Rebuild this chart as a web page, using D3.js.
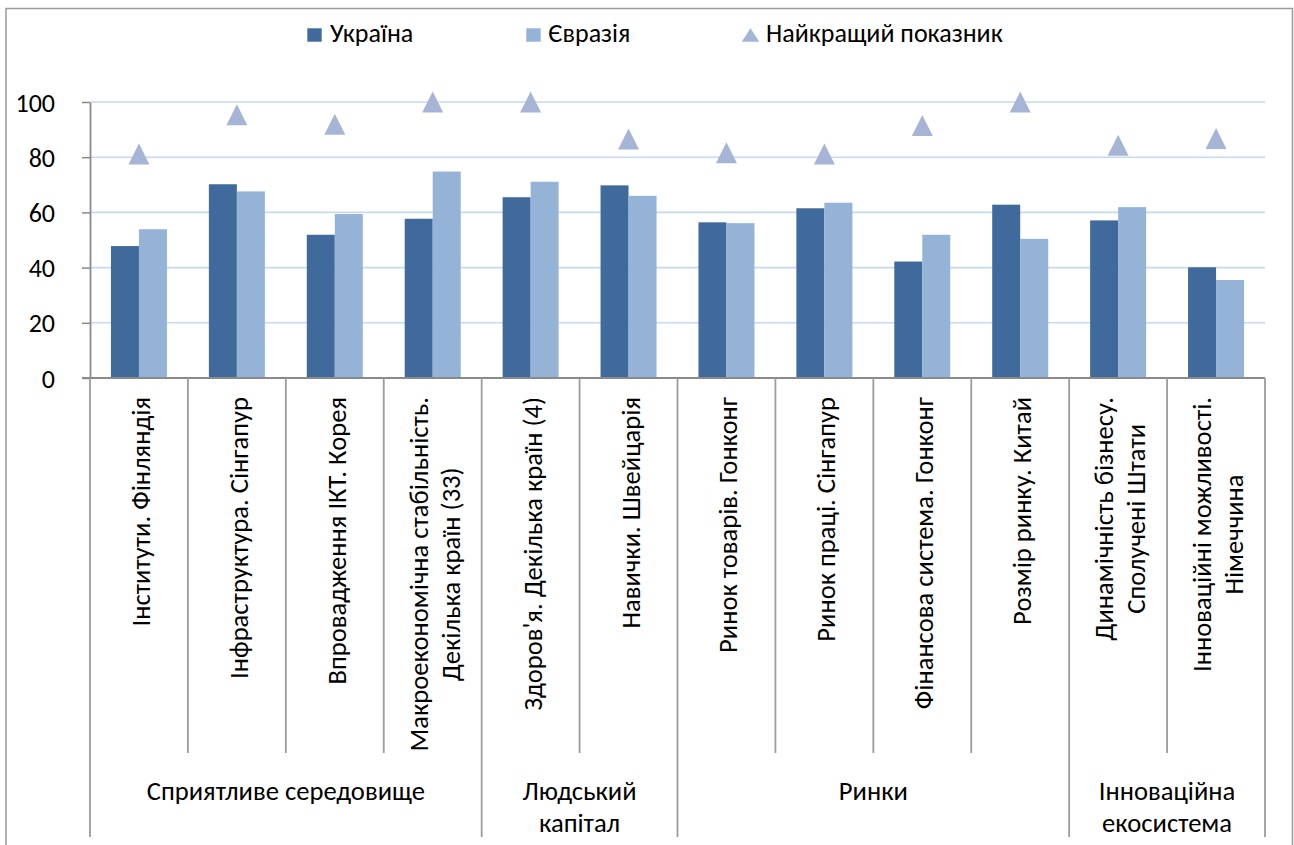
<!DOCTYPE html>
<html><head><meta charset="utf-8">
<script src="https://cdn.jsdelivr.net/npm/d3@7"></script>
<style>
  body { margin: 0; background: #fff; }
  text { font-family: Carlito, Calibri, "Open Sans", sans-serif; fill: #000; }
</style>
</head>
<body>
<svg id="chart" width="1294" height="845"></svg>
<script>
// ---------- data ----------
const categories = [
  "Інститути. Фінляндія",
  "Інфраструктура. Сінгапур",
  "Впровадження ІКТ. Корея",
  "Макроекономічна стабільність.\nДекілька країн (33)",
  "Здоров'я. Декілька країн (4)",
  "Навички. Швейцарія",
  "Ринок товарів. Гонконг",
  "Ринок праці. Сінгапур",
  "Фінансова система. Гонконг",
  "Розмір ринку. Китай",
  "Динамічність бізнесу.\nСполучені Штати",
  "Інноваційні можливості.\nНімеччина"
];
const groupNames = ["Сприятливе середовище", "Людський\nкапітал", "Ринки", "Інноваційна\nекосистема"];
const groupSizes = [4, 2, 4, 2];
const ukraine = [47.8, 70.2, 51.9, 57.7, 65.5, 69.8, 56.4, 61.5, 42.2, 62.8, 57.1, 40.1];
const eurasia = [53.9, 67.6, 59.4, 74.8, 71.1, 66.0, 56.1, 63.5, 51.9, 50.4, 61.9, 35.5];
const best    = [81.2, 95.4, 91.9, 100, 100, 86.6, 81.6, 81.2, 91.5, 100, 84.3, 86.8];
const yTicks = [0, 20, 40, 60, 80, 100];
const seriesNames = ["Україна", "Євразія", "Найкращий показник"];

// ---------- style ----------
const colUkr = "#416A9C", colEur = "#95B3D7", colBest = "#A6B5D6";
const gridCol = "#C8D9EF", axisCol = "#8A8A8A", sepCol = "#9C9C9C";
const smallSize = 26, bigSize = 26.6;

const svg = d3.select("#chart");

// outer chart border
svg.append("rect").attr("x", 6).attr("y", 8.5).attr("width", 1286.5).attr("height", 900)
  .attr("fill", "none").attr("stroke", "#9a9a9a").attr("stroke-width", 1.5);

const x = d3.scaleBand().domain(d3.range(categories.length)).range([90, 1265]).padding(0);
const groupW = 56;
const xs = d3.scaleBand().domain(["ukr", "eur"]).range([0, groupW]);
const y = d3.scaleLinear().domain([0, 100]).range([378, 102]);

// gridlines
svg.append("g").selectAll("line").data(yTicks.filter(d => d > 0)).join("line")
  .attr("x1", 90).attr("x2", 1265)
  .attr("y1", d => y(d)).attr("y2", d => y(d))
  .attr("stroke", gridCol).attr("stroke-width", 1.6);

// bars
const barG = svg.append("g");
const off = (x.bandwidth() - groupW) / 2;
[["ukr", ukraine, colUkr], ["eur", eurasia, colEur]].forEach(([k, vals, c]) => {
  barG.selectAll("rect." + k).data(vals).join("rect").attr("class", k)
    .attr("x", (d, i) => x(i) + off + xs(k))
    .attr("width", xs.bandwidth())
    .attr("y", d => y(d))
    .attr("height", d => y(0) - y(d))
    .attr("fill", c);
});

// best markers (triangles)
const tri = 10.5;
svg.append("g").selectAll("path").data(best).join("path")
  .attr("d", (d, i) => {
    const cx = x(i) + x.bandwidth() / 2, cy = y(d);
    return `M${cx},${cy - tri}L${cx + tri},${cy + tri}L${cx - tri},${cy + tri}Z`;
  })
  .attr("fill", colBest);

// y axis
const yAxis = d3.axisLeft(y).tickValues(yTicks).tickSize(8).tickSizeOuter(0).tickPadding(27);
const ya = svg.append("g").attr("transform", "translate(90,0)").call(yAxis);
ya.select(".domain").attr("stroke", axisCol).attr("stroke-width", 1.8);
ya.selectAll(".tick line").attr("stroke", axisCol).attr("stroke-width", 1.5);
ya.selectAll(".tick text")
  .attr("dy", null).attr("y", 9)
  .attr("text-anchor", "end")
  .style("font-size", smallSize + "px")
  .style("font-family", "Carlito, Calibri, sans-serif")
  .attr("fill", "#000");

// x axis line
svg.append("line").attr("x1", 82).attr("x2", 1265).attr("y1", y(0)).attr("y2", y(0))
  .attr("stroke", axisCol).attr("stroke-width", 1.8);

// category separators
const groupBounds = [0];
groupSizes.forEach(s => groupBounds.push(groupBounds[groupBounds.length - 1] + s));
const sepG = svg.append("g");
d3.range(categories.length + 1).forEach(i => {
  const xx = i < categories.length ? x(i) : x.range()[1];
  const isGroup = groupBounds.includes(i);
  sepG.append("line").attr("x1", xx).attr("x2", xx)
    .attr("y1", y(0)).attr("y2", isGroup ? 837 : 753)
    .attr("stroke", sepCol).attr("stroke-width", 1.8);
});

// rotated category labels
const labG = svg.append("g");
categories.forEach((lab, i) => {
  const lines = lab.split("\n");
  const cx = x(i) + x.bandwidth() / 2;
  const texts = lines.map(l => labG.append("text").style("font-size", bigSize + "px").attr("text-anchor", "middle").text(l));
  const maxLen = d3.max(texts, t => t.node().getComputedTextLength());
  const yc = 397 + maxLen / 2;
  texts.forEach((t, j) => {
    const bx = cx + 11 + (j - (lines.length - 1) / 2) * 32;
    t.attr("transform", `translate(${bx},${yc}) rotate(-90)`);
  });
});

// group labels
const gG = svg.append("g");
groupNames.forEach((g, k) => {
  const x0 = x(groupBounds[k]);
  const x1 = groupBounds[k + 1] < categories.length ? x(groupBounds[k + 1]) : x.range()[1];
  const cx = (x0 + x1) / 2;
  g.split("\n").forEach((l, j) => {
    gG.append("text").attr("x", cx).attr("y", 800 + j * 32)
      .attr("text-anchor", "middle").style("font-size", bigSize + "px").text(l);
  });
});

// legend
const lg = svg.append("g");
lg.append("rect").attr("x", 307.3).attr("y", 28.3).attr("width", 14.4).attr("height", 13.4).attr("fill", colUkr);
lg.append("rect").attr("x", 526.3).attr("y", 28.3).attr("width", 14.4).attr("height", 13.4).attr("fill", colEur);
lg.append("path").attr("d", "M750.5,28.3L759.3,41.7L741.7,41.7Z").attr("fill", colBest);
[[330, seriesNames[0]], [548.3, seriesNames[1]], [766, seriesNames[2]]].forEach(([lx, t]) => {
  lg.append("text").attr("x", lx).attr("y", 41.5)
    .style("font-size", smallSize + "px").text(t);
});
</script>
</body></html>
